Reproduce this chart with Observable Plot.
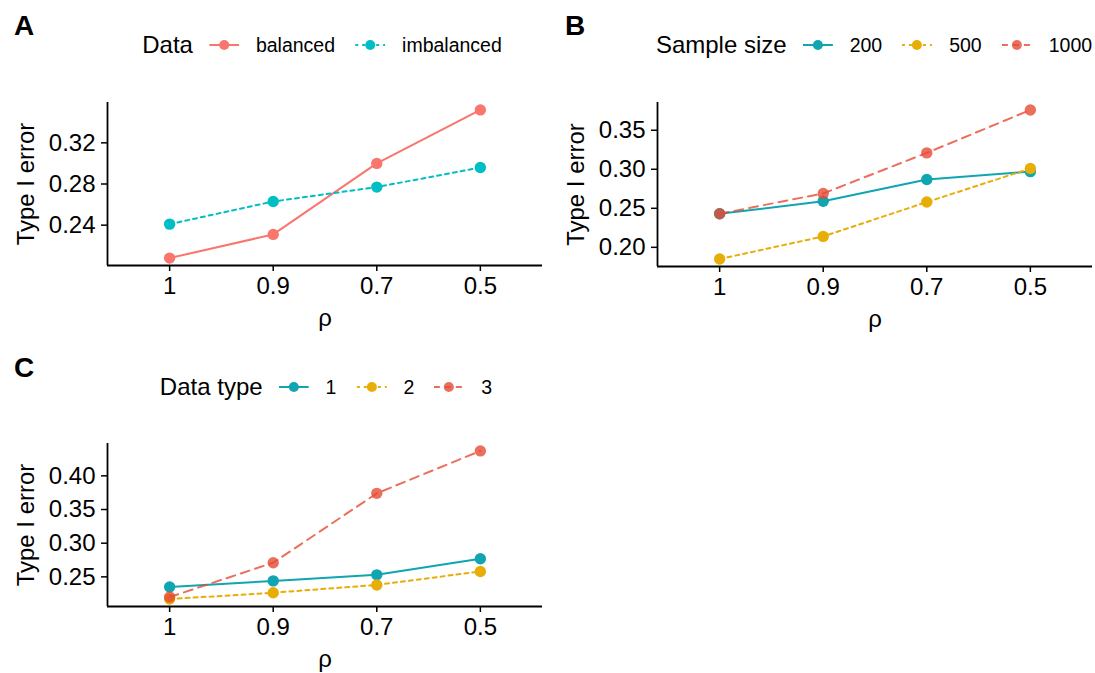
<!DOCTYPE html>
<html>
<head>
<meta charset="utf-8">
<script src="https://cdn.jsdelivr.net/npm/d3@7"></script>
<script src="https://cdn.jsdelivr.net/npm/@observablehq/plot@0.6"></script>
<style>
  html, body { margin: 0; padding: 0; background: #fff; }
  #root { position: relative; width: 1095px; height: 673px; background: #fff; font-family: "Liberation Sans", Arial, sans-serif; color: #000; overflow: hidden; }
  .panel { position: absolute; }
  .tag { position: absolute; font-weight: bold; font-size: 28px; line-height: 1; }
  .legend { position: absolute; display: flex; align-items: center; transform: translate(-50%, -50%); white-space: nowrap; }
  .legend .ttl { font-size: 24px; margin-right: 16px; }
  .legend .key { display: block; margin-right: 17px; }
  .legend .lab { font-size: 19.5px; margin-right: 20px; }
  .legend .lab:last-child { margin-right: 0; }
</style>
</head>
<body>
<div id="root"></div>
<script>
// ---------- data ----------
const rhoLabels = ["1", "0.9", "0.7", "0.5"];

const aTitle = "Data";
const aSeries = ["balanced", "imbalanced"];
const aBalanced   = [0.208, 0.231, 0.300, 0.352];
const aImbalanced = [0.241, 0.263, 0.277, 0.296];
const aTicks = [0.24, 0.28, 0.32];

const bTitle = "Sample size";
const bSeries = ["200", "500", "1000"];
const b200  = [0.243, 0.259, 0.287, 0.297];
const b500  = [0.185, 0.214, 0.258, 0.301];
const b1000 = [0.243, 0.269, 0.321, 0.376];
const bTicks = [0.20, 0.25, 0.30, 0.35];

const cTitle = "Data type";
const cSeries = ["1", "2", "3"];
const c1 = [0.235, 0.244, 0.253, 0.277];
const c2 = [0.217, 0.2265, 0.238, 0.258];
const c3 = [0.220, 0.271, 0.374, 0.437];
const cTicks = [0.25, 0.30, 0.35, 0.40];

const yTitle = "Type I error";
const xTitle = "ρ";

// ---------- styles ----------
const teal = "#0FA5B1", gold = "#E6AE07", red = "#E64B35";
const solid = null, dotted = "4,4", dashed = "9,6";

const root = document.getElementById("root");

function panel({series, values, colors, dashes, opac, ticks, left, top, width, height, mt, mb, ml, mr}) {
  const n = rhoLabels.length;
  const rows = [];
  series.forEach((s, k) => values[k].forEach((v, i) => rows.push({s, i: i + 1, v})));
  const all = values.flat();
  const lo = d3.min(all), hi = d3.max(all), r = hi - lo;
  const yDom = [lo - 0.05 * r, hi + 0.05 * r];
  const xDom = [1 - 0.6, n + 0.6];
  const marks = [
    Plot.ruleY([yDom[0]], {stroke: "#000", strokeWidth: 1.8}),
    Plot.ruleX([xDom[0]], {stroke: "#000", strokeWidth: 1.8}),
    Plot.axisX({ticks: d3.range(1, n + 1), tickFormat: i => rhoLabels[i - 1], tickSize: 6, tickPadding: 5,
      strokeWidth: 1.5, fontSize: 24, label: xTitle, labelAnchor: "center", labelOffset: 60, labelArrow: false}),
    Plot.axisY({ticks, tickFormat: ".2f", tickSize: 6, tickPadding: 6, strokeWidth: 1.5, fontSize: 24,
      label: yTitle, labelAnchor: "center", labelOffset: 91, labelArrow: false})
  ];
  series.forEach((s, k) => {
    const d = rows.filter(r => r.s === s);
    marks.push(Plot.line(d, {x: "i", y: "v", stroke: colors[k], strokeWidth: 2, strokeDasharray: dashes[k], strokeOpacity: opac[k]}));
    marks.push(Plot.dot(d, {x: "i", y: "v", fill: colors[k], r: 5.7, fillOpacity: opac[k], stroke: "none"}));
  });
  const svg = Plot.plot({
    width, height, marginTop: mt, marginBottom: mb, marginLeft: ml, marginRight: mr,
    x: {type: "linear", domain: xDom, axis: null},
    y: {type: "linear", domain: yDom, axis: null},
    style: {fontFamily: "Liberation Sans, Arial, sans-serif", fontSize: "24px", color: "#000", background: "transparent", overflow: "visible"},
    marks
  });
  const div = document.createElement("div");
  div.className = "panel";
  div.style.left = left + "px"; div.style.top = top + "px"; div.style.width = width + "px"; div.style.height = height + "px";
  div.appendChild(svg);
  root.appendChild(div);
}

function legend({title, series, colors, dashes, opac, cx, cy}) {
  const lg = document.createElement("div");
  lg.className = "legend";
  lg.style.left = cx + "px"; lg.style.top = cy + "px";
  const t = document.createElement("span"); t.className = "ttl"; t.textContent = title; lg.appendChild(t);
  series.forEach((s, k) => {
    const ns = "http://www.w3.org/2000/svg";
    const svg = document.createElementNS(ns, "svg");
    svg.setAttribute("width", 30); svg.setAttribute("height", 14); svg.setAttribute("class", "key");
    const ln = document.createElementNS(ns, "line");
    ln.setAttribute("x1", 0); ln.setAttribute("x2", 30); ln.setAttribute("y1", 7); ln.setAttribute("y2", 7);
    ln.setAttribute("stroke", colors[k]); ln.setAttribute("stroke-width", 2); ln.setAttribute("stroke-opacity", opac[k]);
    if (dashes[k]) ln.setAttribute("stroke-dasharray", dashes[k] === dotted ? "3,4" : "6,5");
    const c = document.createElementNS(ns, "circle");
    c.setAttribute("cx", 15); c.setAttribute("cy", 7); c.setAttribute("r", 5); c.setAttribute("fill", colors[k]); c.setAttribute("fill-opacity", opac[k]);
    svg.appendChild(ln); svg.appendChild(c);
    lg.appendChild(svg);
    const l = document.createElement("span"); l.className = "lab"; l.textContent = s; lg.appendChild(l);
  });
  root.appendChild(lg);
}

function tag(txt, x, y) {
  const d = document.createElement("div"); d.className = "tag"; d.textContent = txt;
  d.style.left = x + "px"; d.style.top = y + "px"; root.appendChild(d);
}

// Panel A
const aColors = ["#F8766D", "#00BFC4"], aDash = [solid, dotted], aOp = [1, 1];
panel({series: aSeries, values: [aBalanced, aImbalanced], colors: aColors, dashes: aDash, opac: aOp, ticks: aTicks,
  left: 0, top: 80, width: 550, height: 260, mt: 22, mb: 75, ml: 107, mr: 8});
legend({title: aTitle, series: aSeries, colors: aColors, dashes: aDash, opac: aOp, cx: 322, cy: 45});
tag("A", 14, 12);

// Panel B
const bColors = [teal, gold, red], bDash = [solid, dotted, dashed], bOp = [1, 1, 0.8];
panel({series: bSeries, values: [b200, b500, b1000], colors: bColors, dashes: bDash, opac: bOp, ticks: bTicks,
  left: 550, top: 80, width: 545, height: 260, mt: 22, mb: 74, ml: 107, mr: 3});
legend({title: bTitle, series: bSeries, colors: bColors, dashes: bDash, opac: bOp, cx: 874, cy: 45});
tag("B", 565, 12);

// Panel C
const cColors = [teal, gold, red], cDash = [solid, dotted, dashed], cOp = [1, 1, 0.8];
panel({series: cSeries, values: [c1, c2, c3], colors: cColors, dashes: cDash, opac: cOp, ticks: cTicks,
  left: 0, top: 420, width: 550, height: 253, mt: 23, mb: 67, ml: 107, mr: 8});
legend({title: cTitle, series: cSeries, colors: cColors, dashes: cDash, opac: cOp, cx: 326, cy: 387});
tag("C", 14, 354);
</script>
</body>
</html>
